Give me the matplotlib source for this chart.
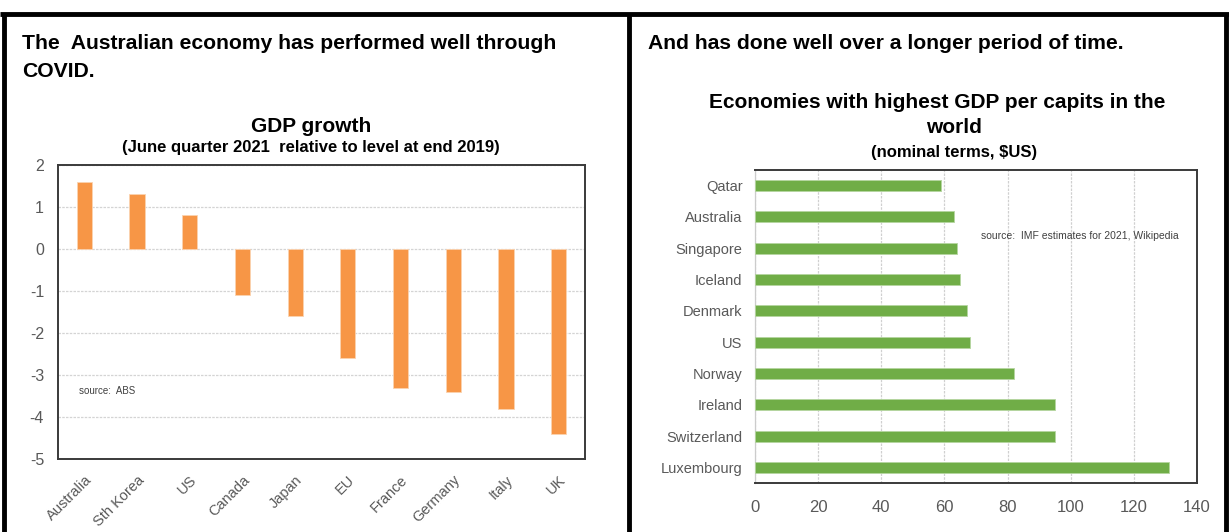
import matplotlib.pyplot as plt
from matplotlib.lines import Line2D

W, H = 1229, 532

# left chart data
gdp_countries = ["Australia", "Sth Korea", "US", "Canada", "Japan", "EU",
                 "France", "Germany", "Italy", "UK"]
gdp_growth = [1.6, 1.3, 0.8, -1.1, -1.6, -2.6, -3.3, -3.4, -3.8, -4.4]

# right chart data (top to bottom)
pc_countries = ["Qatar", "Australia", "Singapore", "Iceland", "Denmark", "US",
                "Norway", "Ireland", "Switzerland", "Luxembourg"]
pc_values = [59, 63, 64, 65, 67, 68, 82, 95, 95, 131]

plt.rcParams['font.family'] = ['Liberation Sans', 'DejaVu Sans']
plt.rcParams['axes.unicode_minus'] = False
GREY = '#595959'


def px_axes(fig, x0, y0, x1, y1):
    # pixel box (top-left origin) -> figure fraction
    return fig.add_axes((x0 / W, 1 - y1 / H, (x1 - x0) / W, (y1 - y0) / H))


def fig_line(fig, xs, ys, lw=3.5):
    fig.add_artist(Line2D([x / W for x in xs], [1 - y / H for y in ys],
                          color='black', linewidth=lw,
                          transform=fig.transFigure, solid_capstyle='butt'))


def fig_text(fig, x, y, s, **kw):
    kw.setdefault('va', 'baseline')
    return fig.text(x / W, 1 - y / H, s, **kw)


fig = plt.figure(figsize=(W / 100, H / 100), dpi=100)
fig.patch.set_facecolor('white')

# outer boxes
fig_line(fig, [0, W], [14, 14])
fig_line(fig, [4, 4], [14, H])
fig_line(fig, [629, 629], [14, H])
fig_line(fig, [1226, 1226], [14, H])

# panel headings
fig_text(fig, 22, 49, "The  Australian economy has performed well through",
         fontsize=15.2, fontweight='bold')
fig_text(fig, 22, 77, "COVID.", fontsize=15.2, fontweight='bold')
fig_text(fig, 648, 49, "And has done well over a longer period of time.",
         fontsize=15.2, fontweight='bold')

# ---- left: GDP growth
ax1 = px_axes(fig, 58, 165, 585, 459)
x = range(len(gdp_countries))
ax1.bar(x, gdp_growth, width=0.29, color='#F79646', edgecolor='#fbd3b0',
        linewidth=0.6, zorder=3)
ax1.set_xlim(-0.5, len(gdp_countries) - 0.5)
ax1.set_ylim(-5, 2)
ax1.set_yticks(range(-5, 3))
ax1.set_xticks(list(x))
ax1.set_xticklabels(gdp_countries, rotation=45, ha='right', rotation_mode='anchor')
ax1.tick_params(axis='both', length=0, labelcolor=GREY, labelsize=11.5)
ax1.tick_params(axis='y', pad=10)
ax1.tick_params(axis='x', pad=10, labelsize=10.5)
ax1.grid(axis='y', color='#d4d4d4', linewidth=0.9, linestyle=(0, (2, 1)), zorder=0)
for s in ax1.spines.values():
    s.set_color('#3a3a3a')
    s.set_linewidth(1.4)
ax1.text(0.04, -3.38, "source:  ABS", transform=ax1.get_yaxis_transform(),
         fontsize=7, color='#404040', va='center')
fig_text(fig, 311, 132, "GDP growth", fontsize=15, fontweight='bold', ha='center')
fig_text(fig, 311, 152, "(June quarter 2021  relative to level at end 2019)",
         fontsize=12, fontweight='bold', ha='center')

# ---- right: GDP per capita
ax2 = px_axes(fig, 755, 170, 1197, 483)
y = range(len(pc_countries))
ax2.barh(y, pc_values, height=0.35, color='#70AD47', edgecolor='#b5d6a0',
         linewidth=0.6, zorder=3)
ax2.set_ylim(len(pc_countries) - 0.5, -0.5)
ax2.set_xlim(0, 140)
ax2.set_xticks(range(0, 141, 20))
ax2.set_yticks(list(y))
ax2.set_yticklabels(pc_countries)
ax2.tick_params(axis='both', length=0, labelcolor=GREY)
ax2.tick_params(axis='y', pad=9, labelsize=10.5)
ax2.tick_params(axis='x', pad=12, labelsize=12)
ax2.grid(axis='x', color='#d0d0d0', linewidth=0.9, linestyle=(0, (2, 1)), zorder=0)
for s in ax2.spines.values():
    s.set_color('#3a3a3a')
    s.set_linewidth(1.4)
ax2.spines['left'].set_color('#cccccc')
ax2.spines['left'].set_linewidth(0.9)
fig_text(fig, 981, 236, "source:  IMF estimates for 2021, Wikipedia",
         fontsize=7.5, color='#404040', va='center')
fig_text(fig, 937, 108, "Economies with highest GDP per capits in the",
         fontsize=15, fontweight='bold', ha='center')
fig_text(fig, 954, 133, "world", fontsize=15, fontweight='bold', ha='center')
fig_text(fig, 954, 157, "(nominal terms, $US)", fontsize=12,
         fontweight='bold', ha='center')

fig.savefig("out.png", dpi=100)
